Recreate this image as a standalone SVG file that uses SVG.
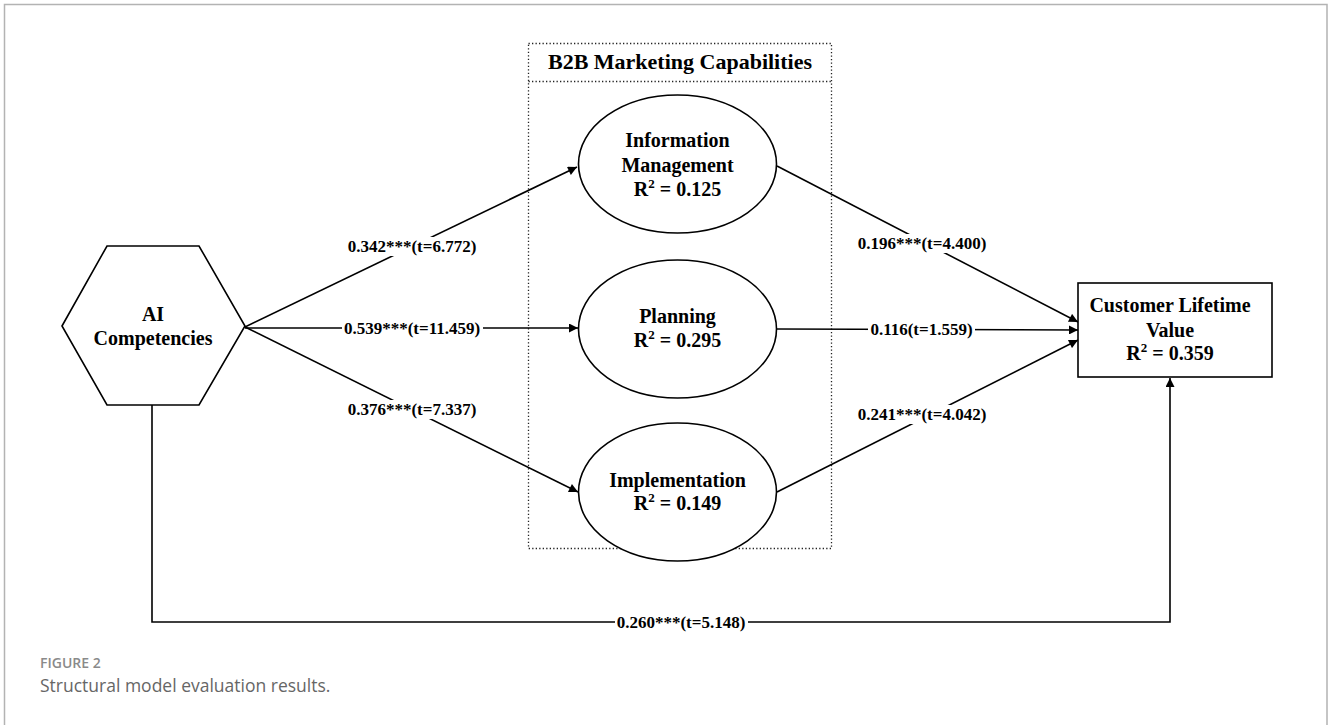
<svg xmlns="http://www.w3.org/2000/svg" width="1328" height="725" viewBox="0 0 1328 725">
<defs>
<marker id="arr" viewBox="0 0 10 10" refX="10" refY="5" markerWidth="11" markerHeight="9" markerUnits="userSpaceOnUse" orient="auto">
<path d="M0,0 L10,5 L0,10 z" fill="#000"/>
</marker>
</defs>
<style>
.node{fill:#fff;stroke:#000;stroke-width:1.6}
.t{font-family:"Liberation Serif","Times New Roman",serif;font-weight:bold;font-size:20px;fill:#000;text-anchor:middle}
.lbl{font-family:"Liberation Serif","Times New Roman",serif;font-weight:bold;font-size:17px;fill:#000;text-anchor:middle}
.sup{font-size:13px}
.edge{fill:none;stroke:#000;stroke-width:1.6;marker-end:url(#arr)}
.bg{fill:#fff}
.frame{fill:none;stroke:#b3b3b3;stroke-width:1.5}
.dot{fill:none;stroke:#222;stroke-width:1.3;stroke-dasharray:1.3 2.2}
</style>
<rect width="1328" height="725" fill="#fff"/>
<path class="frame" d="M4.5,725 V4.5 H1327 V725"/>

<g id="b2b-group">
<rect class="dot" x="528.5" y="43.5" width="303" height="505"/>
<line class="dot" x1="528.5" y1="81.5" x2="831.5" y2="81.5"/>
<text class="t" x="680" y="69" style="font-size:22px">B2B Marketing Capabilities</text>
</g>

<g id="connectors">
<line class="edge" x1="245" y1="327" x2="577" y2="167"/>
<line class="edge" x1="245" y1="328" x2="578" y2="328"/>
<line class="edge" x1="245" y1="327" x2="578" y2="492"/>
<line class="edge" x1="777" y1="166" x2="1078" y2="322"/>
<line class="edge" x1="777" y1="329" x2="1078" y2="330"/>
<line class="edge" x1="777" y1="492" x2="1078" y2="340"/>
<path class="edge" d="M152,405 V622 H1170 V378"/>
<rect class="bg" x="346" y="237" width="132" height="19"/>
<text class="lbl" x="412" y="252">0.342***(t=6.772)</text>
<rect class="bg" x="342" y="319" width="141" height="19"/>
<text class="lbl" x="412" y="334">0.539***(t=11.459)</text>
<rect class="bg" x="346" y="400" width="132" height="19"/>
<text class="lbl" x="412" y="415">0.376***(t=7.337)</text>
<rect class="bg" x="856" y="234" width="132" height="19"/>
<text class="lbl" x="922" y="249">0.196***(t=4.400)</text>
<rect class="bg" x="868" y="320" width="107" height="19"/>
<text class="lbl" x="921.5" y="335">0.116(t=1.559)</text>
<rect class="bg" x="856" y="405" width="132" height="19"/>
<text class="lbl" x="922" y="420">0.241***(t=4.042)</text>
<rect class="bg" x="615" y="613" width="133" height="19"/>
<text class="lbl" x="681" y="628">0.260***(t=5.148)</text>
</g>

<g id="ai-competencies">
<polygon class="node" points="62,326 107,246 199,246 245,326 199,405 107,405"/>
<text class="t" x="153" y="321">AI</text>
<text class="t" x="153" y="345">Competencies</text>
</g>

<g id="information-management">
<ellipse class="node" cx="677.5" cy="164" rx="99" ry="69"/>
<text class="t" x="677.5" y="147">Information</text>
<text class="t" x="677.5" y="172">Management</text>
<text class="t" x="677.5" y="196">R<tspan class="sup" dy="-8">2</tspan><tspan dy="8"> = 0.125</tspan></text>
</g>

<g id="planning">
<ellipse class="node" cx="677.5" cy="329" rx="99" ry="69"/>
<text class="t" x="677.5" y="323">Planning</text>
<text class="t" x="677.5" y="347">R<tspan class="sup" dy="-8">2</tspan><tspan dy="8"> = 0.295</tspan></text>
</g>

<g id="implementation">
<ellipse class="node" cx="677.5" cy="492" rx="99" ry="69"/>
<text class="t" x="677.5" y="487">Implementation</text>
<text class="t" x="677.5" y="510">R<tspan class="sup" dy="-8">2</tspan><tspan dy="8"> = 0.149</tspan></text>
</g>

<g id="customer-lifetime-value">
<rect class="node" x="1078" y="283" width="194" height="94"/>
<text class="t" x="1170" y="312">Customer Lifetime</text>
<text class="t" x="1170" y="337">Value</text>
<text class="t" x="1170" y="360">R<tspan class="sup" dy="-8">2</tspan><tspan dy="8"> = 0.359</tspan></text>
</g>

<g id="caption">
<text x="40" y="668" style="font-family:'Open Sans',sans-serif;font-size:14px;font-weight:600;fill:#8a8a8a">FIGURE 2</text>
<text x="40" y="692" style="font-family:'Open Sans',sans-serif;font-size:17.5px;fill:#666">Structural model evaluation results.</text>
</g>
</svg>
